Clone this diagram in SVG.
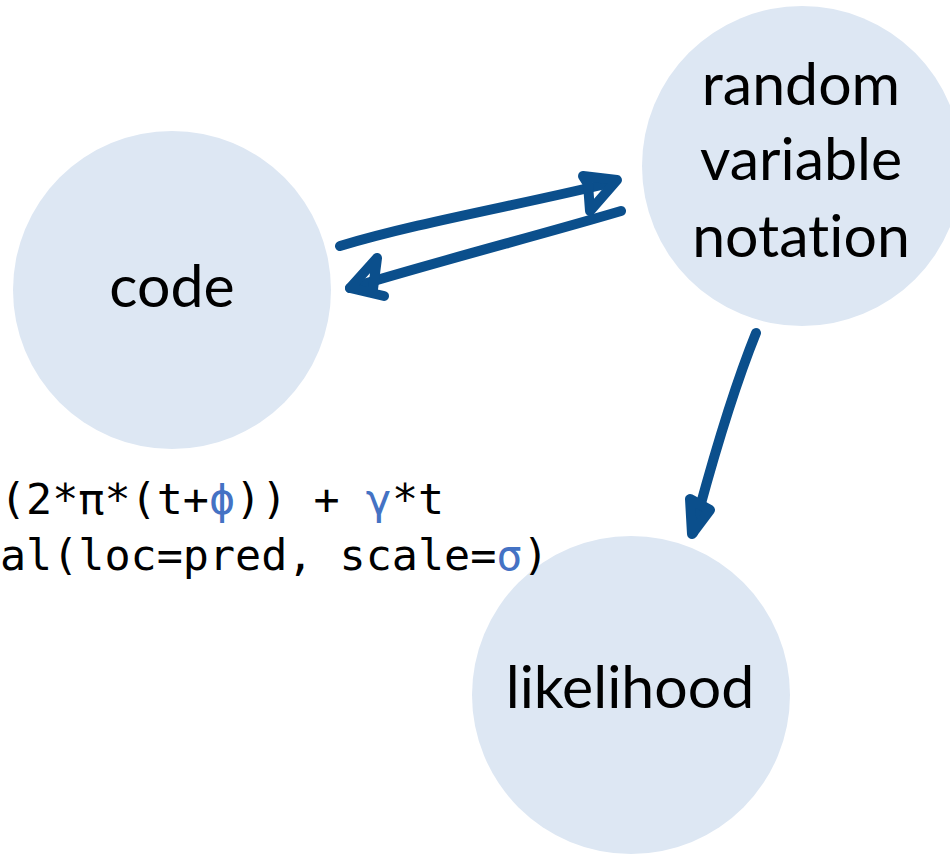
<svg xmlns="http://www.w3.org/2000/svg" width="950" height="856" viewBox="0 0 950 856">
  <style>
    .node { fill: #dde7f3; }
    .label { font-family: "Lato", "Open Sans", "Liberation Sans", sans-serif; font-size: 59px; fill: #000; text-anchor: middle; font-variant-ligatures: none; }
    .code { font-family: "DejaVu Sans Mono", "Liberation Mono", monospace; font-size: 43.4px; fill: #000; }
    .greek { fill: #4472c4; }
    .ink { fill: none; stroke: #0b4f8c; stroke-width: 10; stroke-linecap: round; stroke-linejoin: round; }
    .ink-fill { fill: #0b4f8c; stroke: #0b4f8c; stroke-width: 10; stroke-linecap: round; stroke-linejoin: round; }
  </style>
  <rect width="950" height="856" fill="#ffffff"/>

  <g id="node-code">
    <circle class="node" cx="172" cy="290" r="159"/>
    <text class="label" x="172" y="307">code</text>
  </g>

  <g id="node-random-variable">
    <circle class="node" cx="802" cy="166" r="160"/>
    <text class="label" x="801" y="105">random</text>
    <text class="label" x="801" y="180">variable</text>
    <text class="label" x="801" y="257">notation</text>
  </g>

  <g id="node-likelihood">
    <circle class="node" cx="631" cy="695" r="159"/>
    <text class="label" x="630" y="708">likelihood</text>
  </g>

  <g id="code-snippet">
    <text class="code" x="0" y="514">(2*π*(t+<tspan class="greek">ϕ</tspan>)) + <tspan class="greek">γ</tspan>*t</text>
    <text class="code" x="0" y="570">al(loc=pred, scale=<tspan class="greek">σ</tspan>)</text>
  </g>

  <g id="connectors">
    <!-- code to random variable notation -->
    <path class="ink" d="M340,246 C420,222 520,205 614,182"/>
    <path class="ink" d="M583,176 L617,180 L590,211 L588,184 Z"/>
    <!-- random variable notation back to code -->
    <path class="ink" d="M621,211 C540,235 450,258 350,288"/>
    <path class="ink" d="M377,258 L350,288 L384,296 M377,258 L373,289"/>
    <!-- random variable notation to likelihood -->
    <path class="ink" d="M756,333 C735,385 715,450 693,533"/>
    <path class="ink-fill" d="M690,499 L692,534 L710,510 Z"/>
  </g>
</svg>
